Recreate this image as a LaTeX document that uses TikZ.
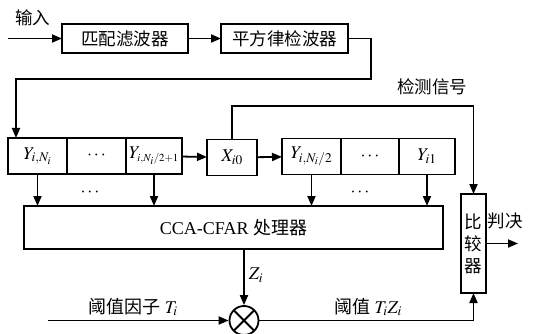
\documentclass[tikz,border=0pt]{standalone}
\usepackage{mathptmx}
\usepackage[no-math]{fontspec}
\setmainfont{Liberation Serif}
\newfontfamily\cjk{Noto Sans CJK SC}
\usetikzlibrary{arrows.meta, positioning, calc}
\tikzset{
  cfont/.style={font=\fontsize{17.5}{22}\selectfont\cjk},
  lfont/.style={font=\fontsize{18}{20}\selectfont},
  blk/.style={rectangle, draw, line width=1.8pt, align=center, inner sep=0pt, outer sep=0pt, cfont},
  cell/.style={blk, minimum height=36pt, lfont},
  ccabox/.style={blk, minimum width=419pt, minimum height=43pt, lfont},
  cmpbox/.style={blk, minimum width=25pt, minimum height=99pt},
  mult/.style={circle, draw, line width=1.8pt, minimum size=29pt, inner sep=0pt,
    path picture={\draw[line width=1.8pt] (path picture bounding box.north west) -- (path picture bounding box.south east)
      (path picture bounding box.north east) -- (path picture bounding box.south west);}},
  lab/.style={inner sep=1pt, lfont},
  clab/.style={inner sep=1pt, cfont},
  arr/.style={-{Triangle[length=10pt, width=8pt]}, line width=1.8pt},
}
\begin{document}
\begin{tikzpicture}[x=1pt, y=-1pt, node distance=0pt]
  \useasboundingbox (0,0) rectangle (538,334);
  \node[blk, minimum width=126pt, minimum height=29pt] (mf) at (125,38.5) {匹配滤波器};
  \node[blk, minimum width=127pt, minimum height=29pt] (sq) at (284.5,38.5) {平方律检波器};
  \coordinate (in) at (8,38.5);
  \node[clab] (inl) at (33,18) {输入};

  \node[cell, minimum width=59pt] (y1) at (37.5,156) {$Y_{i,N_i}$};
  \node[cell, minimum width=59pt, right=of y1] (y2) {$\cdots$};
  \node[cell, minimum width=56pt, right=of y2] (y3) {$Y_{\scriptscriptstyle i,N_i/2+1}$};
  \node[cell, minimum width=50pt] (x0) at (232,157.5) {$X_{i0}$};
  \node[cell, minimum width=59pt, anchor=west] (y4) at (282,156.5) {$Y_{i,N_i/2}$};
  \node[cell, minimum width=58pt, right=of y4] (y5) {$\cdots$};
  \node[cell, minimum width=56pt, right=of y5] (y6) {$Y_{i1}$};
  \node[lab] (d1) at (90,193) {$\cdots$};
  \node[lab] (d2) at (360,193) {$\cdots$};

  \node[ccabox] (cca) at (233.5,227.5) {CCA-CFAR {\cjk 处理器}};
  \node[cmpbox] (cmp) at (473.5,243.5) {比\\较\\器};
  \node[mult] (mul) at (244,320.5) {};

  \node[clab] (det) at (432,87) {检测信号};
  \node[clab] (dec) at (505,221) {判决};
  \node[lab] (zl) at (256,275) {$Z_i$};
  \node[lab] (tl) at (133,307) {{\cjk 阈值因子} $T_i$};
  \node[lab] (thl) at (368,307) {{\cjk 阈值} $T_iZ_i$};

  \coordinate (c1) at (371,79);
  \coordinate (c2) at (16,79);
  \coordinate (top) at (0,106);
  \coordinate (tin) at (48,320.5);
  \coordinate (out) at (518,243.5);

  \draw[arr] (in) -- (mf);
  \draw[arr] (mf) -- (sq);
  \draw[arr] (sq.east) -| (c1) -- (c2) -- (c2 |- y1.north);
  \draw[arr] (y3) -- (x0);
  \draw[arr] (x0) -- (y4);
  \draw[arr] (x0.north) -- (x0.north |- top) -| (cmp.north);
  \foreach \n in {y1,y3,y4,y6}
    \draw[arr] (\n.south) -- (\n.south |- cca.north);
  \draw[arr] (mul.north |- cca.south) -- (mul.north);
  \draw[arr] (tin) -- (mul.west);
  \draw[arr] (mul.east) -| (cmp.south);
  \draw[arr] (cmp.east) -- (out);
\end{tikzpicture}
\end{document}
